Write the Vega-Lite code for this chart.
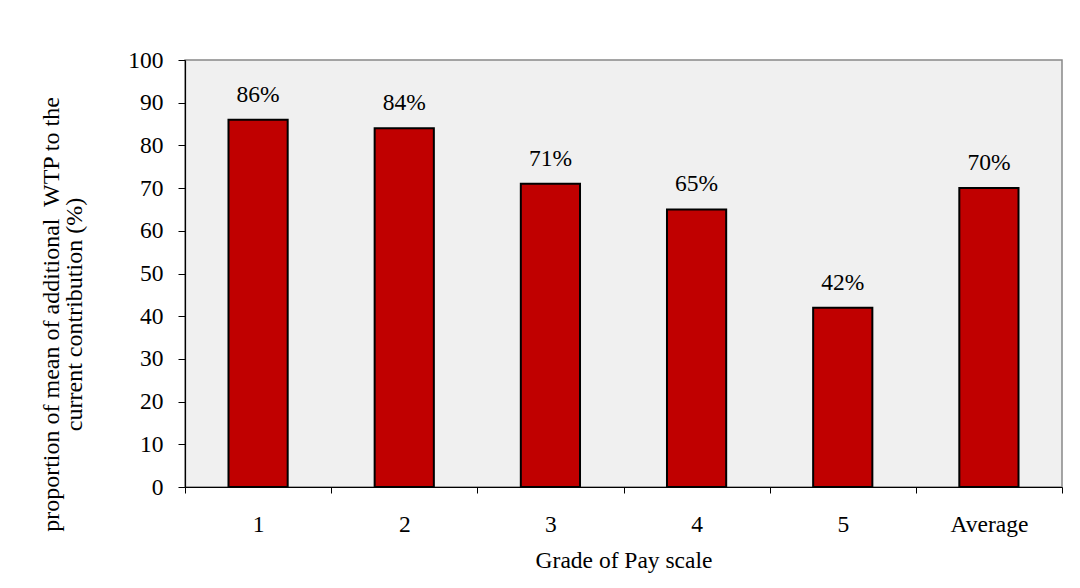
{
  "$schema": "https://vega.github.io/schema/vega-lite/v6.json",
  "width": 877,
  "height": 427,
  "autosize": {"type": "none"},
  "padding": {"left": 185, "top": 60, "right": 18, "bottom": 101},
  "background": "white",
  "config": {
    "font": "Liberation Serif",
    "view": {"fill": "#f0f0f0", "stroke": "#888888", "strokeWidth": 1.5},
    "axis": {"labelFont": "Liberation Serif", "titleFont": "Liberation Serif", "labelColor": "black", "titleColor": "black", "titleFontWeight": "normal", "domainColor": "black", "tickColor": "black", "grid": false}
  },
  "data": {
    "values": [
      {"grade": "1", "value": 86, "label": "86%"},
      {"grade": "2", "value": 84, "label": "84%"},
      {"grade": "3", "value": 71, "label": "71%"},
      {"grade": "4", "value": 65, "label": "65%"},
      {"grade": "5", "value": 42, "label": "42%"},
      {"grade": "Average", "value": 70, "label": "70%"}
    ]
  },
  "encoding": {
    "x": {
      "field": "grade", "type": "nominal", "sort": null,
      "scale": {"paddingInner": 0, "paddingOuter": 0},
      "axis": {"title": "Grade of Pay scale", "labelAngle": 0, "labelFontSize": 23.5, "titleFontSize": 23.5, "tickBand": "extent", "tickSize": 6, "labelPadding": 19, "titlePadding": 13, "domainWidth": 1.2}
    },
    "y": {
      "field": "value", "type": "quantitative",
      "scale": {"domain": [0, 100]},
      "axis": {"title": ["proportion of mean of additional\u00a0 WTP to the", "current contribution (%)"], "values": [0,10,20,30,40,50,60,70,80,90,100], "labelFontSize": 23.5, "titleFontSize": 24, "tickSize": 7, "labelPadding": 15, "titlePadding": 41, "titleLineHeight": 23, "titleY": 254, "titleAlign": "center", "domainWidth": 1.2}
    }
  },
  "layer": [
    {"mark": {"type": "bar", "color": "#c00000", "stroke": "black", "strokeWidth": 2, "width": {"band": 0.405}}},
    {"mark": {"type": "text", "baseline": "bottom", "dy": -13, "fontSize": 23.5, "font": "Liberation Serif", "color": "black"}, "encoding": {"text": {"field": "label"}}}
  ]
}
